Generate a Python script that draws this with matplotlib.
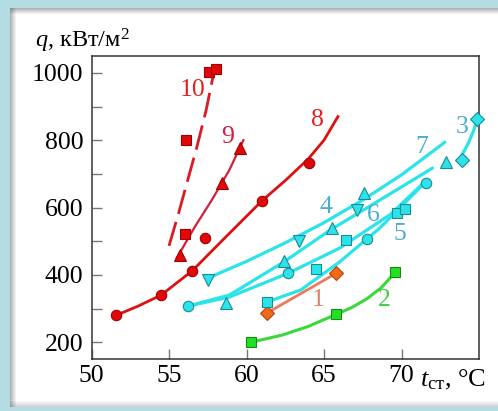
import numpy as np
import matplotlib
matplotlib.use("Agg")
import matplotlib.pyplot as plt
from matplotlib.patches import Rectangle

plt.rcParams['font.family'] = ['Liberation Serif', 'DejaVu Serif']
plt.rcParams['mathtext.fontset'] = 'custom'
plt.rcParams['mathtext.rm'] = 'Liberation Serif'
plt.rcParams['mathtext.it'] = 'Liberation Serif:italic'

# lines (t_wall, q)
c1_t = [61.3, 65.8]
c1_q = [286, 405]
c2_t = [60.3, 62.3, 64.0, 65.8, 66.8, 67.8, 68.7, 69.6]
c2_q = [200, 221, 247, 283, 303, 330, 362, 408]
c3_t = [73.9, 74.3, 74.6, 74.9]
c3_q = [756, 790, 822, 862]
c4_t = [56.2, 58.9, 62.4, 65.4, 68.6, 72.0]
c4_q = [307, 340, 438, 533, 622, 717]
c5_t = [61.3, 63.5, 66.0, 68.6, 71.3]
c5_q = [319, 355, 438, 539, 664]
c6_t = [56.2, 58.9, 62.7, 66.0, 69.3, 71.6]
c6_q = [307, 334, 405, 479, 580, 681]
c7_t = [57.5, 60.0, 62.5, 65.0, 67.5, 70.0, 72.8]
c7_q = [390, 440, 495, 555, 622, 697, 794]
c8_t = [51.6, 53.0, 54.5, 56.5, 58.5, 61.0, 62.5, 64.0, 65.0, 65.9]
c8_q = [280, 307, 340, 412, 505, 620, 680, 745, 800, 870]
c9_t = [55.5, 56.7, 57.8, 58.9, 59.8]
c9_q = [450, 545, 625, 712, 800]
c10_t = [55.0, 55.6, 56.2, 56.8, 57.4, 58.0]
c10_q = [486, 580, 680, 780, 890, 1025]

# experimental points
m1_t = [61.3, 65.8]
m1_q = [286, 405]
m2_t = [60.3, 65.8, 69.6]
m2_q = [200, 283, 408]
m3_t = [73.9, 74.9]
m3_q = [741, 862]
tri_dn_t = [57.5, 63.4, 67.1]
tri_dn_q = [384, 500, 592]
tri_up_t = [58.7, 62.4, 65.5, 67.6, 72.9]
tri_up_q = [316, 441, 540, 642, 735]
circ_t = [56.2, 62.7, 67.8, 71.6]
circ_q = [307, 405, 505, 673]
sq_t = [61.3, 64.5, 66.4, 69.7, 70.2]
sq_q = [319, 417, 502, 585, 595]
r_circ_t = [51.6, 54.5, 56.5, 57.3, 61.0, 64.0]
r_circ_q = [280, 340, 412, 509, 620, 731]
r_tri_t = [55.7, 58.4, 59.6]
r_tri_q = [458, 672, 776]
r_sq_t = [56.0, 56.1, 57.6, 58.0]
r_sq_q = [521, 800, 1003, 1011]

labels = ['1', '2', '3', '4', '5', '6', '7', '8', '9', '10']
label_t = [64.6, 68.9, 73.9, 65.1, 69.9, 68.15, 71.3, 64.55, 58.8, 56.55]
label_q = [325, 325, 839, 601, 521, 577, 780, 860, 809, 949]

cyan = '#2ae4ea'
cyan_txt = '#4aaecc'
red = '#dd1111'

fig = plt.figure(figsize=(4.98, 4.11), dpi=100)
fig.patch.set_facecolor('#b3dde2')
# white panel with soft shadow
W, H = 498.0, 411.0
fig.patches.append(Rectangle((10/W, 4/H), 1, 1 - 12/H, transform=fig.transFigure,
                             facecolor='white', edgecolor='none', zorder=-10))
for i in range(6):
    a = 0.45 * (1 - i/6.0)
    fig.patches.append(Rectangle(((10+i)/W, 4/H), 1/W, 1 - 12/H, transform=fig.transFigure,
                                 facecolor='#555555', alpha=a, edgecolor='none', zorder=-9))
    fig.patches.append(Rectangle((10/W, (H-9-i)/H), 1, 1/H, transform=fig.transFigure,
                                 facecolor='#555555', alpha=a, edgecolor='none', zorder=-9))
    fig.patches.append(Rectangle((10/W, (4+i)/H), 1, 1/H, transform=fig.transFigure,
                                 facecolor='#555555', alpha=a*0.6, edgecolor='none', zorder=-9))

ax = fig.add_axes([91.5/W, 1 - 359/H, (479-91.5)/W, (359-56)/H])
ax.set_facecolor('white')

ax.plot(c1_t, c1_q, color='#ee7a58', lw=2.0, zorder=2)
ax.plot(c2_t, c2_q, color='#3ad83a', lw=2.2, zorder=2)
for t, q in [(c3_t, c3_q), (c4_t, c4_q), (c5_t, c5_q), (c6_t, c6_q), (c7_t, c7_q)]:
    ax.plot(t, q, color=cyan, lw=2.3, solid_capstyle='round', zorder=2)
ax.plot(c8_t, c8_q, color=red, lw=2.0, zorder=2)
ax.plot(c9_t, c9_q, color='#d0203a', lw=1.6, zorder=2)
ax.plot(c10_t, c10_q, color='#dd1a22', lw=2.0, dashes=(9, 3), zorder=2)

ms = 7.5
ax.plot(m1_t, m1_q, 'D', ms=ms, mfc='#f06a18', mec='#a84810', mew=0.8, zorder=4)
ax.plot(m2_t, m2_q, 's', ms=ms, mfc='#22e022', mec='#158a15', mew=0.8, zorder=4)
ax.plot(m3_t, m3_q, 'D', ms=ms, mfc=cyan, mec='#188a98', mew=0.8, zorder=4, clip_on=False)
ax.plot(tri_dn_t, tri_dn_q, 'v', ms=ms+1, mfc=cyan, mec='#188a98', mew=0.8, zorder=4)
ax.plot(tri_up_t, tri_up_q, '^', ms=ms+1, mfc=cyan, mec='#188a98', mew=0.8, zorder=4)
ax.plot(circ_t, circ_q, 'o', ms=ms, mfc=cyan, mec='#188a98', mew=0.8, zorder=4)
ax.plot(sq_t, sq_q, 's', ms=ms, mfc=cyan, mec='#188a98', mew=0.8, zorder=4)
ax.plot(r_circ_t, r_circ_q, 'o', ms=ms, mfc='#e00808', mec='#a00000', mew=0.8, zorder=4)
ax.plot(r_tri_t, r_tri_q, '^', ms=ms+1, mfc='#e00808', mec='#a00000', mew=0.8, zorder=4)
ax.plot(r_sq_t, r_sq_q, 's', ms=ms, mfc='#e00808', mec='#a00000', mew=0.8, zorder=4)

label_c = ['#e88060', '#44cc44', cyan_txt, cyan_txt, cyan_txt, cyan_txt, cyan_txt,
           '#dd2222', '#d0203a', '#dd2222']
for s, t, q, c in zip(labels, label_t, label_q, label_c):
    ax.text(t, q, s, color=c, fontsize=18.5, ha='center', va='center', zorder=5)

ax.set_xlim(50, 75)
ax.set_ylim(150, 1050)
ax.set_xticks([50, 55, 60, 65, 70])
ax.set_yticks([200, 400, 600, 800, 1000])
ax.set_yticks([300, 500, 700, 900], minor=True)
ax.tick_params(which='both', direction='in', length=7, width=1, color='#777777',
               labelsize=18.5)
ax.tick_params(axis='y', pad=6)
ax.tick_params(axis='x', pad=4)
for sp in ax.spines.values():
    sp.set_color('#333333')
    sp.set_linewidth(1.1)

fig.text(35/W, 1 - 41/H, r'$q$, кВт/м$^2$', fontsize=17.5, ha='left', va='center')
fig.text(420/W, 1 - 380/H, r'$t_{\mathrm{ст}}$, °C', fontsize=19, ha='left', va='center')

fig.savefig('out.png', dpi=100, facecolor=fig.get_facecolor())
